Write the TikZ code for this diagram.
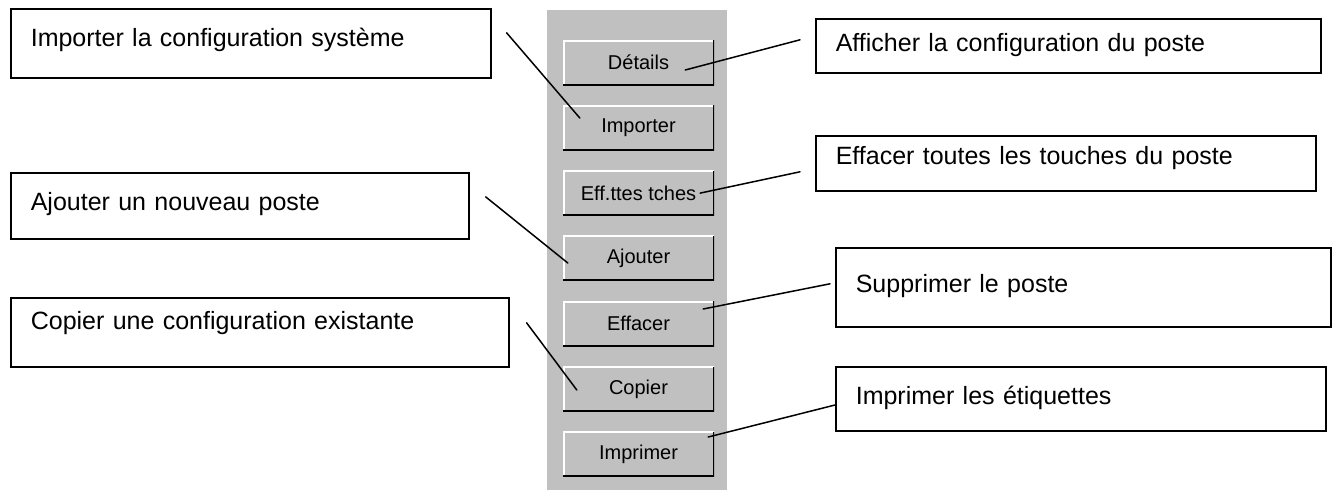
\documentclass[tikz,border=0pt]{standalone}
\usepackage{fontspec}
\setmainfont{Liberation Sans}
\usetikzlibrary{calc}
\definecolor{wingray}{HTML}{C0C0C0}

\tikzset{
	callout/.style={draw=black, line width=1.6pt, anchor=north west, inner xsep=20pt, inner ysep=0pt,
		align=left, font=\fontsize{25}{30}\selectfont},
	winbtn/.style={fill=wingray, minimum width=151pt, minimum height=45pt, inner sep=0pt,
		font=\fontsize{20}{24}\selectfont,
		path picture={
			\draw[white, line width=3pt] (path picture bounding box.south west)
			-- (path picture bounding box.north west) -- (path picture bounding box.north east);
			\draw[black, line width=3pt] (path picture bounding box.north east)
			-- (path picture bounding box.south east) -- (path picture bounding box.south west);
		}},
	pointer/.style={line width=1.5pt, line cap=round}
}

\begin{document}
\begin{tikzpicture}[x=1pt,y=-1pt]
		% page in pixel units, y going down
		\useasboundingbox (0,0) rectangle (1337,501);
		
		% gray panel with the buttons
		\fill[wingray] (547,10) rectangle (727,490);
		\foreach \nm/\lbl [count=\i from 0] in {bDet/Détails, bImp/Importer, bEff/{Eff.ttes tches},
			bAjo/Ajouter, bEfc/Effacer, bCop/Copier, bImpr/Imprimer}
		\node[winbtn] (\nm) at (638.5,62.5+65.3*\i) {\lbl};
		
		% text boxes on the left
		\node[callout, text width=440pt, text height=38pt, text depth=31pt] (impbox) at (10,8)
		{Importer la configuration système};
		\node[callout, text width=418pt, text height=38pt, text depth=28pt] (ajobox) at (10,172)
		{Ajouter un nouveau poste};
		\node[callout, text width=458pt, text height=32pt, text depth=37pt] (copbox) at (10,297)
		{Copier une configuration existante};
		
		% text boxes on the right
		\node[callout, text width=465pt, text height=33pt, text depth=21pt] (affbox) at (815,18)
		{Afficher la configuration du poste};
		\node[callout, text width=460pt, text height=29pt, text depth=26pt] (effbox) at (815,135)
		{Effacer toutes les touches du poste};
		\node[callout, text width=455pt, text height=45pt, text depth=34pt] (supbox) at (835,247)
		{Supprimer le poste};
		\node[callout, text width=450pt, text height=38pt, text depth=26pt] (impribox) at (835,366)
		{Imprimer les étiquettes};
		
		% pointers
		\draw[pointer] ($(impbox.east)+(15,-10.5)$) -- ($(bImp.west)+(17,-9.8)$);
		\draw[pointer] ($(ajobox.east)+(16,-9)$) -- ($(bAjo.west)+(5,4.6)$);
		\draw[pointer] ($(copbox.east)+(17,-9.5)$) -- ($(bCop.west)+(14,1)$);
		\draw[pointer] ($(bDet.east)+(-29,7.5)$) -- ($(affbox.west)+(-15,-6)$);
		\draw[pointer] ($(bEff.east)+(-14,0)$) -- ($(effbox.west)+(-15,8.5)$);
		\draw[pointer] ($(bEfc.east)+(-11,-14.7)$) -- ($(supbox.west)+(-5,-3.5)$);
		\draw[pointer] ($(bImpr.east)+(-6,-17.3)$) -- (impribox.west|-0,405);
	\end{tikzpicture}
\end{document}
